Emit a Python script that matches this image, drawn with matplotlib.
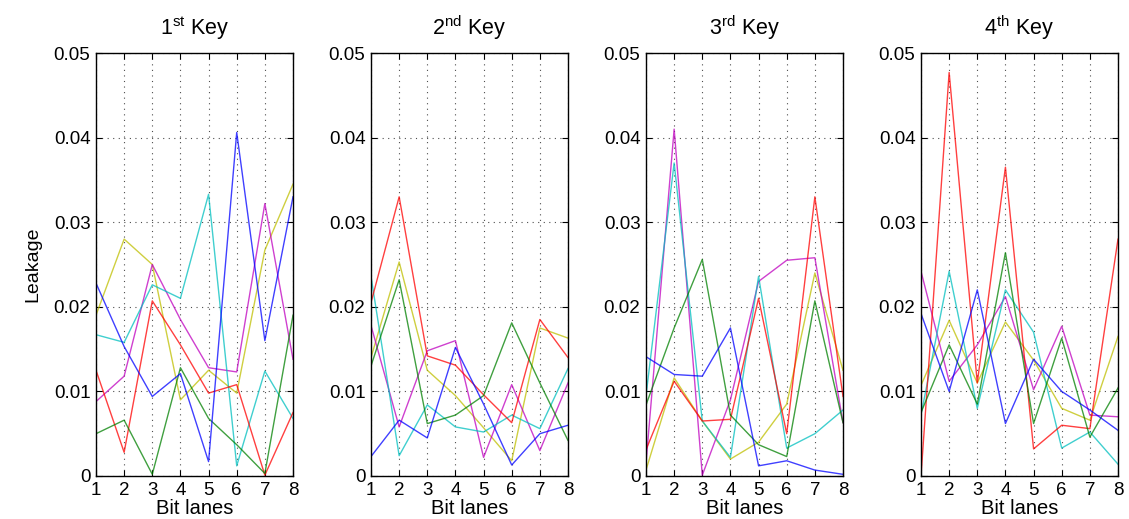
import numpy as np
import matplotlib
matplotlib.use("Agg")
import matplotlib.pyplot as plt
from matplotlib.ticker import MultipleLocator

plt.rcParams['font.family'] = ['Liberation Sans', 'DejaVu Sans']
plt.rcParams['mathtext.default'] = 'regular'

lanes = [1, 2, 3, 4, 5, 6, 7, 8]
titles = [r'1$^{st}$ Key', r'2$^{nd}$ Key', r'3$^{rd}$ Key', r'4$^{th}$ Key']

# MATLAB (old) default colour order: b, g, r, c, m, y
colors = [(0, 0, 1), (0, 0.5, 0), (1, 0, 0),
          (0, 0.75, 0.75), (0.75, 0, 0.75), (0.75, 0.75, 0)]

key1_blue = [0.0228, 0.0153, 0.0094, 0.0121, 0.0017, 0.0406, 0.0160, 0.0330]
key1_green = [0.0050, 0.0066, 0.0002, 0.0128, 0.0068, 0.0037, 0.0003, 0.0190]
key1_red = [0.0125, 0.0028, 0.0207, 0.0155, 0.0098, 0.0108, 0.0001, 0.0075]
key1_cyan = [0.0167, 0.0158, 0.0226, 0.0210, 0.0333, 0.0012, 0.0124, 0.0068]
key1_magenta = [0.0088, 0.0118, 0.0250, 0.0185, 0.0128, 0.0123, 0.0322, 0.0138]
key1_yellow = [0.0190, 0.0280, 0.0250, 0.0090, 0.0125, 0.0098, 0.0267, 0.0345]

key2_blue = [0.0023, 0.0066, 0.0045, 0.0152, 0.0085, 0.0013, 0.0050, 0.0060]
key2_green = [0.0130, 0.0232, 0.0062, 0.0072, 0.0095, 0.0181, 0.0110, 0.0042]
key2_red = [0.0205, 0.0330, 0.0142, 0.0131, 0.0096, 0.0063, 0.0185, 0.0140]
key2_cyan = [0.0236, 0.0024, 0.0084, 0.0058, 0.0052, 0.0072, 0.0056, 0.0127]
key2_magenta = [0.0178, 0.0058, 0.0148, 0.0160, 0.0022, 0.0108, 0.0030, 0.0110]
key2_yellow = [0.0140, 0.0253, 0.0125, 0.0095, 0.0057, 0.0018, 0.0175, 0.0163]

key3_blue = [0.0141, 0.0120, 0.0118, 0.0175, 0.0012, 0.0018, 0.0007, 0.0002]
key3_green = [0.0084, 0.0175, 0.0256, 0.0072, 0.0037, 0.0023, 0.0207, 0.0063]
key3_red = [0.0031, 0.0112, 0.0065, 0.0067, 0.0210, 0.0050, 0.0330, 0.0094]
key3_cyan = [0.0095, 0.0370, 0.0065, 0.0022, 0.0236, 0.0033, 0.0050, 0.0078]
key3_magenta = [0.0015, 0.0410, 0.0001, 0.0090, 0.0230, 0.0255, 0.0258, 0.0063]
key3_yellow = [0.0007, 0.0116, 0.0065, 0.0020, 0.0040, 0.0085, 0.0240, 0.0125]

key4_blue = [0.0192, 0.0100, 0.0220, 0.0062, 0.0138, 0.0100, 0.0078, 0.0054]
key4_green = [0.0075, 0.0155, 0.0085, 0.0264, 0.0062, 0.0163, 0.0046, 0.0104]
key4_red = [0.0000, 0.0477, 0.0110, 0.0365, 0.0032, 0.0060, 0.0056, 0.0280]
key4_cyan = [0.0072, 0.0242, 0.0080, 0.0220, 0.0170, 0.0033, 0.0052, 0.0014]
key4_magenta = [0.0242, 0.0112, 0.0155, 0.0212, 0.0102, 0.0177, 0.0072, 0.0070]
key4_yellow = [0.0107, 0.0184, 0.0110, 0.0182, 0.0137, 0.0080, 0.0066, 0.0165]

keys = [
    [key1_blue, key1_green, key1_red, key1_cyan, key1_magenta, key1_yellow],
    [key2_blue, key2_green, key2_red, key2_cyan, key2_magenta, key2_yellow],
    [key3_blue, key3_green, key3_red, key3_cyan, key3_magenta, key3_yellow],
    [key4_blue, key4_green, key4_red, key4_cyan, key4_magenta, key4_yellow],
]

fig = plt.figure(figsize=(11.29, 5.19), dpi=100)
W, H = 1129.0, 519.0
lefts = [96, 371, 646, 921]
width = 197
top, bottom = 53, 476

for i, series in enumerate(keys):
    ax = fig.add_axes([lefts[i] / W, 1 - bottom / H, width / W, (bottom - top) / H])
    # draw in reverse so blue ends on top, as in the original
    for s, c in reversed(list(zip(series, colors))):
        ax.plot(lanes, s, color=c, linewidth=1.0, alpha=0.75)
    ax.set_xlim(1, 8)
    ax.set_ylim(0, 0.05)
    ax.set_xticks(lanes)
    ax.set_yticks([0, 0.01, 0.02, 0.03, 0.04, 0.05])
    ax.set_yticklabels(['0', '0.01', '0.02', '0.03', '0.04', '0.05'])
    ax.yaxis.set_minor_locator(MultipleLocator(0.0025))
    ax.grid(True, which='major', linestyle=(0, (1, 4)), color='0.3', linewidth=0.8)
    ax.tick_params(which='both', direction='in', top=True, right=True,
                   labelsize=13.5, length=4, pad=4)
    ax.tick_params(which='minor', length=0)
    for sp in ax.spines.values():
        sp.set_linewidth(1.0)
    ax.set_title(titles[i], fontsize=15.5, pad=13)
    ax.set_xlabel('Bit lanes', fontsize=14.5, labelpad=0)
    if i == 0:
        ax.set_ylabel('Leakage', fontsize=14, labelpad=9)

fig.savefig('out.png', dpi=100)
